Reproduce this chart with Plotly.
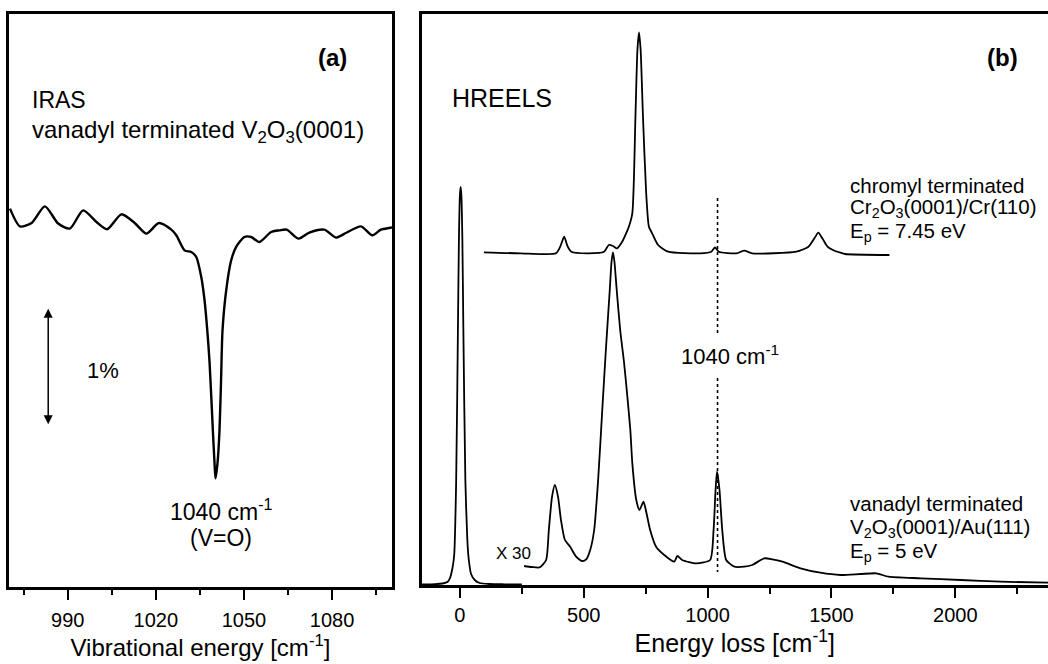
import plotly.graph_objects as go

# ---------------- Panel (a): IRAS ----------------
iras_x = [970.34, 973.74, 977.71, 982.23, 986.75, 990.72, 995.24, 999.79, 1003.39, 1008.28,
          1012.80, 1016.77, 1021.05, 1025.26, 1026.96, 1029.78, 1032.06, 1033.76, 1035.46, 1036.58,
          1037.50, 1038.30, 1039.40, 1039.98, 1040.31, 1040.98, 1041.67, 1042.20, 1042.70, 1043.95,
          1045.65, 1047.34, 1050.16, 1052.44, 1055.26, 1059.23, 1062.05, 1064.53, 1068.61, 1072.24,
          1077.34, 1081.31, 1084.71, 1089.80, 1093.74, 1096.60, 1099.42, 1100.4]
iras_y = [3.237, 3.085, 3.114, 3.256, 3.109, 3.066, 3.222, 3.122, 3.060, 3.188,
          3.114, 3.023, 3.114, 3.057, 3.009, 2.880, 2.866, 2.823, 2.652, 2.453,
          2.197, 1.915, 1.342, 1.057, 0.929, 1.057, 1.342, 1.770, 2.197, 2.538,
          2.795, 2.909, 2.994, 2.994, 2.951, 3.037, 3.051, 3.057, 2.980, 3.032,
          3.057, 2.989, 3.028, 3.085, 3.009, 3.057, 3.071, 3.075]

# ---------------- Panel (b): HREELS ----------------
elastic_x = [-155, -100, -70, -50, -40, -30, -23, -15, -8, -4, 0, 3, 6, 10, 14, 22, 30, 36,
             45, 60, 80, 120, 180, 250]
elastic_y = [0.005, 0.008, 0.015, 0.03, 0.07, 0.17, 0.30, 1.05, 2.55, 3.45, 3.90, 3.98, 3.90,
             3.45, 2.55, 1.05, 0.45, 0.25, 0.11, 0.05, 0.02, 0.01, 0.007, 0.005]

vanadyl_x = [259, 290, 323, 348, 359, 372, 383.5, 396, 408, 424, 445, 469, 493, 510, 526, 542,
             558, 574, 590, 605, 612, 618, 624, 633, 647, 663, 676, 688, 696, 712, 725, 741,
             752, 768, 792, 825, 865, 878, 897, 954, 1010, 1024, 1032, 1038, 1048, 1059, 1075,
             1108, 1148, 1180, 1229, 1261, 1302, 1375, 1455, 1536, 1617, 1681, 1730, 1860,
             2021, 2183, 2374]
vanadyl_y = [0.19, 0.18, 0.177, 0.25, 0.55, 0.883, 1.00, 0.883, 0.65, 0.45, 0.383, 0.283, 0.24,
             0.257, 0.35, 0.55, 1.05, 1.72, 2.383, 2.95, 3.23, 3.327, 3.23, 2.95, 2.55, 2.217,
             1.883, 1.55, 1.217, 0.85, 0.75, 0.833, 0.733, 0.55, 0.383, 0.30, 0.233, 0.29, 0.25,
             0.217, 0.25, 0.55, 0.95, 1.133, 0.95, 0.55, 0.25, 0.183, 0.183, 0.20, 0.267, 0.257,
             0.233, 0.167, 0.123, 0.10, 0.11, 0.117, 0.083, 0.067, 0.05, 0.033, 0.023]

chromyl_x = [97, 243, 388, 405, 421, 434, 450, 518, 582, 601, 618, 634, 655, 671, 682, 696,
             708.6, 716.6, 723, 729.6, 739, 752, 763, 776, 800, 841, 970, 1015, 1030, 1045,
             1116, 1148, 1180, 1358, 1407, 1431, 1447, 1463, 1484, 1512, 1536, 1555, 1734]
chromyl_y = [3.327, 3.317, 3.317, 3.383, 3.483, 3.39, 3.333, 3.317, 3.333, 3.40, 3.39, 3.367,
             3.433, 3.517, 3.583, 3.717, 4.683, 5.35, 5.527, 5.35, 4.683, 3.917, 3.583, 3.517,
             3.40, 3.333, 3.317, 3.333, 3.377, 3.333, 3.317, 3.343, 3.317, 3.333, 3.383, 3.467,
             3.523, 3.467, 3.383, 3.343, 3.323, 3.31, 3.30]

marker_pos = 1040
marker_upper = [3.87, 2.50]
marker_lower = [2.07, 0.13]

FONT = "Liberation Sans, Arial, sans-serif"
BLACK = "black"

fig = go.Figure()

fig.add_trace(go.Scatter(x=iras_x, y=iras_y, mode="lines", xaxis="x", yaxis="y",
                         line=dict(color=BLACK, width=2.4, shape="spline", smoothing=0.7),
                         hoverinfo="skip", showlegend=False))

fig.add_trace(go.Scatter(x=elastic_x, y=elastic_y, mode="lines", xaxis="x2", yaxis="y2",
                         line=dict(color=BLACK, width=1.8, shape="spline", smoothing=0.6),
                         hoverinfo="skip", showlegend=False))
fig.add_trace(go.Scatter(x=vanadyl_x, y=vanadyl_y, mode="lines", xaxis="x2", yaxis="y2",
                         line=dict(color=BLACK, width=1.8, shape="spline", smoothing=0.6),
                         hoverinfo="skip", showlegend=False))
fig.add_trace(go.Scatter(x=chromyl_x, y=chromyl_y, mode="lines", xaxis="x2", yaxis="y2",
                         line=dict(color=BLACK, width=1.8, shape="spline", smoothing=0.6),
                         hoverinfo="skip", showlegend=False))
for seg in (marker_upper, marker_lower):
    fig.add_trace(go.Scatter(x=[marker_pos, marker_pos], y=seg, mode="lines",
                             xaxis="x2", yaxis="y2",
                             line=dict(color=BLACK, width=1.6, dash="dot"),
                             hoverinfo="skip", showlegend=False))

ydom_a = [(664 - 587) / 664, (664 - 13.5) / 664]
ydom_b = [(664 - 585) / 664, (664 - 13.5) / 664]
axis_common = dict(showline=True, linecolor=BLACK, linewidth=2.5, showgrid=False,
                   zeroline=False, ticks="outside", ticklen=10, tickwidth=2,
                   tickcolor=BLACK, tickfont=dict(family=FONT, size=20, color=BLACK))

fig.update_layout(
    width=1048, height=664, margin=dict(l=0, r=0, t=0, b=0),
    paper_bgcolor="white", plot_bgcolor="white",
    xaxis=dict(domain=[9/1048, 392/1048], range=[970, 1100.4], mirror=True,
               tickvals=[990, 1020, 1050, 1080], ticklabelstandoff=3,
               minor=dict(tickvals=[975, 1005, 1035, 1065, 1095], ticklen=5,
                          tickwidth=2, tickcolor=BLACK, ticks="outside"),
               title=dict(text="Vibrational energy [cm<sup>-1</sup>]",
                          font=dict(family=FONT, size=24, color=BLACK), standoff=10),
               **axis_common),
    yaxis=dict(domain=ydom_a, range=[0, 4.906], showline=True, mirror=True,
               linecolor=BLACK, linewidth=2.5, showgrid=False, zeroline=False,
               showticklabels=False, ticks=""),
    xaxis2=dict(domain=[421.5/1048, 1.0], range=[-155, 2374], mirror=True,
                tick0=0, dtick=500,
                minor=dict(dtick=250, tick0=0, ticklen=6, tickwidth=2,
                           tickcolor=BLACK, ticks="outside"),
                title=dict(text="Energy loss [cm<sup>-1</sup>]",
                           font=dict(family=FONT, size=25, color=BLACK), standoff=8),
                anchor="y2", **axis_common),
    yaxis2=dict(domain=ydom_b, range=[0, 5.715], showline=True, mirror=False,
                linecolor=BLACK, linewidth=2.5, showgrid=False, zeroline=False,
                showticklabels=False, ticks="", anchor="x2"),
)

def txt(x, y, s, size, xref="x", yref="y", xanchor="left", bold=False):
    fig.add_annotation(x=x, y=y, xref=xref, yref=yref, text=(f"<b>{s}</b>" if bold else s),
                       showarrow=False, xanchor=xanchor, yanchor="middle",
                       font=dict(family=FONT, size=size, color=BLACK))

# panel (a) texts
txt(1080.2, 4.53, "(a)", 24, xanchor="center", bold=True)
txt(977.1, 4.167, "IRAS", 23)
txt(977.1, 3.90, "vanadyl terminated V<sub>2</sub>O<sub>3</sub>(0001)", 24)
txt(995.8, 1.855, "1%", 22)
txt(1042.2, 0.66, "1040 cm<sup>-1</sup>", 23, xanchor="center")
txt(1042.2, 0.42, "(V=O)", 23, xanchor="center")
fig.add_annotation(x=983.35, y=1.393, ax=983.35, ay=2.393, xref="x", yref="y",
                   axref="x", ayref="y", text="", showarrow=True, arrowhead=2,
                   startarrowhead=2, arrowside="end+start", arrowsize=1.2,
                   arrowwidth=1.5, arrowcolor=BLACK)

# panel (b) texts
txt(2191, 5.28, "(b)", 24, xref="x2", yref="y2", xanchor="center", bold=True)
txt(-40, 4.87, "HREELS", 25, xref="x2", yref="y2")
txt(1566, 4.00, "chromyl terminated", 20.5, xref="x2", yref="y2")
txt(1566, 3.775, "Cr<sub>2</sub>O<sub>3</sub>(0001)/Cr(110)", 20.5, xref="x2", yref="y2")
txt(1566, 3.53, "E<sub>p</sub> = 7.45 eV", 20.5, xref="x2", yref="y2")
txt(1090, 2.30, "1040 cm<sup>-1</sup>", 22, xref="x2", yref="y2", xanchor="center")
txt(1566, 0.82, "vanadyl terminated", 20.5, xref="x2", yref="y2")
txt(1566, 0.57, "V<sub>2</sub>O<sub>3</sub>(0001)/Au(111)", 20.5, xref="x2", yref="y2")
txt(1566, 0.33, "E<sub>p</sub> = 5 eV", 20.5, xref="x2", yref="y2")
txt(218, 0.32, "X 30", 17, xref="x2", yref="y2", xanchor="center")

fig.write_html("out.html", config={"displayModeBar": False},
               post_script="document.body.style.margin='0px';"
                           "document.body.style.overflow='hidden';")
